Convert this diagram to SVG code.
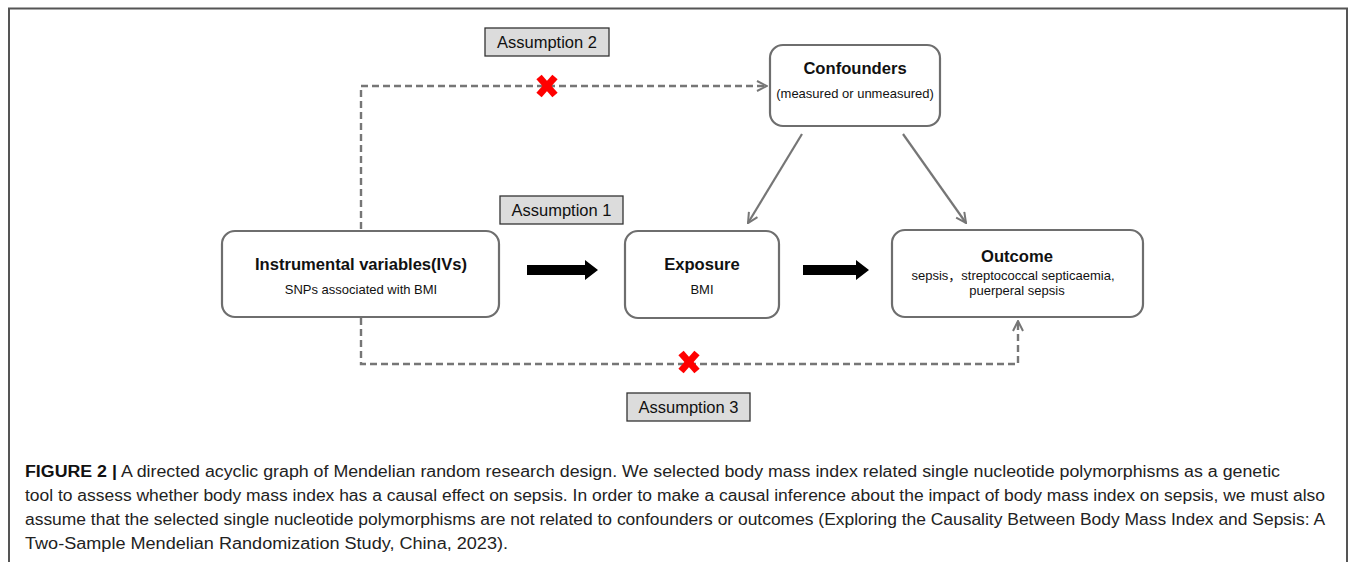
<svg xmlns="http://www.w3.org/2000/svg" width="1355" height="562" viewBox="0 0 1355 562">
<style>
.node{fill:#fff;stroke:#6e6e6e;stroke-width:2.2}
.lab{fill:#dcdcdc;stroke:#333;stroke-width:1.3}
.t{font-family:"Liberation Sans",Arial,sans-serif;fill:#111;text-anchor:middle}
.b{font-weight:bold;font-size:16.6px}
.s{font-size:13px}
.a{font-size:16.5px}
.dash{fill:none;stroke:#767676;stroke-width:2.4;stroke-dasharray:7 4}
.solid{fill:none;stroke:#767676;stroke-width:2.2}
.x{stroke:#ff0000;stroke-width:7;stroke-linecap:butt}
.cap{font-family:"Liberation Sans",Arial,sans-serif;font-size:16px;fill:#222}
</style>
<defs>
<marker id="open" viewBox="0 0 12 12" refX="11" refY="6" markerWidth="12" markerHeight="12" markerUnits="userSpaceOnUse" orient="auto">
<path d="M1,1 L11,6 L1,11" fill="none" stroke="#767676" stroke-width="2"/>
</marker>
</defs>
<rect width="1355" height="562" fill="#fff"/>
<path d="M9,562 V8.5 H1347 V562" fill="none" stroke="#555" stroke-width="2"/>

<g id="connectors">
<path class="dash" d="M361,229 V86 H767" marker-end="url(#open)"/>
<path class="dash" d="M361,318 V364 H1018 V321" marker-end="url(#open)"/>
<line class="solid" x1="802" y1="134" x2="748" y2="223" marker-end="url(#open)"/>
<line class="solid" x1="903" y1="134" x2="966" y2="223" marker-end="url(#open)"/>
<path d="M527,265 H585 V260 L598,270 L585,280 V275 H527 Z" fill="#000"/>
<path d="M803,265 H856 V260 L869,270 L856,280 V275 H803 Z" fill="#000"/>
<g id="x1"><line class="x" x1="539" y1="77" x2="555" y2="95"/><line class="x" x1="555" y1="77" x2="539" y2="95"/></g>
<g id="x2"><line class="x" x1="681" y1="353" x2="697" y2="371"/><line class="x" x1="697" y1="353" x2="681" y2="371"/></g>
</g>

<g id="assumption2"><rect class="lab" x="485" y="28" width="124" height="28"/><text class="t a" x="547" y="48">Assumption 2</text></g>
<g id="assumption1"><rect class="lab" x="500" y="196" width="123" height="28"/><text class="t a" x="561.5" y="216">Assumption 1</text></g>
<g id="assumption3"><rect class="lab" x="627" y="393" width="123" height="28"/><text class="t a" x="688.5" y="413">Assumption 3</text></g>

<g id="confounders"><rect class="node" x="770" y="45" width="170" height="81" rx="13"/>
<text class="t b" x="855" y="74">Confounders</text>
<text class="t s" x="855" y="98">(measured or unmeasured)</text></g>

<g id="ivs"><rect class="node" x="222" y="231" width="277" height="86" rx="13"/>
<text class="t b" x="361" y="270">Instrumental variables(IVs)</text>
<text class="t s" x="361" y="294">SNPs associated with BMI</text></g>

<g id="exposure"><rect class="node" x="625" y="231" width="154" height="87" rx="13"/>
<text class="t b" x="702" y="270">Exposure</text>
<text class="t s" x="702" y="294">BMI</text></g>

<g id="outcome"><rect class="node" x="892" y="230" width="251" height="87" rx="13"/>
<text class="t b" x="1017" y="262">Outcome</text>
<text class="t s" x="1013" y="280" style="font-family:'Liberation Sans','Noto Sans CJK SC',sans-serif">sepsis，streptococcal septicaemia,</text>
<text class="t s" x="1017" y="295">puerperal sepsis</text></g>

<g id="caption">
<text class="cap" x="25" y="477" textLength="1255" lengthAdjust="spacingAndGlyphs"><tspan font-weight="bold" fill="#111">FIGURE 2 |</tspan> A directed acyclic graph of Mendelian random research design. We selected body mass index related single nucleotide polymorphisms as a genetic</text>
<text class="cap" x="25" y="501" textLength="1300" lengthAdjust="spacingAndGlyphs">tool to assess whether body mass index has a causal effect on sepsis. In order to make a causal inference about the impact of body mass index on sepsis, we must also</text>
<text class="cap" x="25" y="525" textLength="1300" lengthAdjust="spacingAndGlyphs">assume that the selected single nucleotide polymorphisms are not related to confounders or outcomes (Exploring the Causality Between Body Mass Index and Sepsis: A</text>
<text class="cap" x="25" y="549" textLength="483" lengthAdjust="spacingAndGlyphs">Two-Sample Mendelian Randomization Study, China, 2023).</text>
</g>
</svg>
